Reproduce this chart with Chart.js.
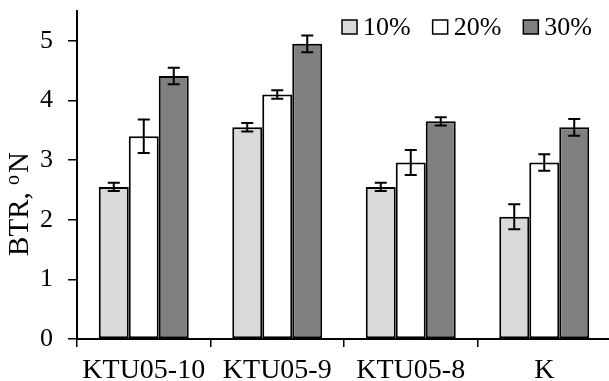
<!DOCTYPE html>
<html>
<head>
<meta charset="utf-8">
<script src="https://cdn.jsdelivr.net/npm/chart.js@4.4.1/dist/chart.umd.min.js"></script>
<style>
  html, body { margin: 0; padding: 0; background: #fff; overflow: hidden; }
  #wrap { width: 611px; height: 381px; position: relative; }
</style>
</head>
<body>
<div id="wrap"><canvas id="btrChart"></canvas></div>
<script>
const categories = ['KTU05-10', 'KTU05-9', 'KTU05-8', 'K'];
const seriesNames = ['10%', '20%', '30%'];

const values10 = [2.55, 3.55, 2.55, 2.05];
const values20 = [3.40, 4.10, 2.96, 2.96];
const values30 = [4.41, 4.95, 3.65, 3.55];

const errors10 = [0.07, 0.07, 0.07, 0.21];
const errors20 = [0.28, 0.07, 0.21, 0.14];
const errors30 = [0.14, 0.14, 0.07, 0.14];

const yTicks = [0, 1, 2, 3, 4, 5];

const serif = "'Liberation Serif', 'Times New Roman', serif";
const fills = ['#d9d9d9', '#ffffff', '#808080'];

const errorBarPlugin = {
  id: 'errorBars',
  afterDatasetsDraw(chart) {
    const ctx = chart.ctx;
    const yScale = chart.scales.y;
    ctx.save();
    ctx.strokeStyle = '#000';
    ctx.lineWidth = 2;
    chart.data.datasets.forEach((ds, i) => {
      const meta = chart.getDatasetMeta(i);
      meta.data.forEach((bar, j) => {
        const v = ds.data[j];
        const e = ds.errors[j];
        const yTop = yScale.getPixelForValue(v + e);
        const yBot = yScale.getPixelForValue(v - e);
        const x = bar.x;
        ctx.beginPath();
        ctx.moveTo(x, yTop);
        ctx.lineTo(x, yBot);
        ctx.moveTo(x - 6, yTop);
        ctx.lineTo(x + 6, yTop);
        ctx.moveTo(x - 6, yBot);
        ctx.lineTo(x + 6, yBot);
        ctx.stroke();
      });
    });
    ctx.restore();
  }
};

const legendPlugin = {
  id: 'boxLegend',
  afterDraw(chart) {
    const ctx = chart.ctx;
    ctx.save();
    ctx.font = '26px ' + serif;
    ctx.textBaseline = 'alphabetic';
    let x = 342;
    chart.data.datasets.forEach((ds) => {
      ctx.fillStyle = ds.backgroundColor;
      ctx.fillRect(x, 20, 15, 14);
      ctx.strokeStyle = '#000';
      ctx.lineWidth = 1.5;
      ctx.strokeRect(x, 20, 15, 14);
      ctx.fillStyle = '#000';
      ctx.fillText(ds.label, x + 21, 35);
      x += 21 + ctx.measureText(ds.label).width + 22;
    });
    ctx.restore();
  }
};

const yTitlePlugin = {
  id: 'yTitle',
  afterDraw(chart) {
    const ctx = chart.ctx;
    ctx.save();
    ctx.translate(28, 204);
    ctx.rotate(-Math.PI / 2);
    ctx.fillStyle = '#000';
    ctx.textBaseline = 'alphabetic';
    const mainFont = '29px ' + serif;
    const supFont = '20px ' + serif;
    ctx.font = mainFont;
    const w1 = ctx.measureText('BTR, ').width;
    const w3 = ctx.measureText('N').width;
    ctx.font = supFont;
    const w2 = ctx.measureText('o').width + 2;
    let x = -(w1 + w2 + w3) / 2;
    ctx.font = mainFont;
    ctx.fillText('BTR, ', x, 0);
    x += w1;
    ctx.font = supFont;
    ctx.fillText('o', x, -9);
    x += w2;
    ctx.font = mainFont;
    ctx.fillText('N', x, 0);
    ctx.restore();
  }
};

const ctx = document.getElementById('btrChart').getContext('2d');

new Chart(ctx, {
  type: 'bar',
  data: {
    labels: categories,
    datasets: [
      { label: seriesNames[0], data: values10, errors: errors10, backgroundColor: fills[0] },
      { label: seriesNames[1], data: values20, errors: errors20, backgroundColor: fills[1] },
      { label: seriesNames[2], data: values30, errors: errors30, backgroundColor: fills[2] }
    ].map(ds => Object.assign(ds, {
      borderColor: '#000',
      borderWidth: 2,
      borderSkipped: false,
      categoryPercentage: 0.674,
      barPercentage: 1
    }))
  },
  options: {
    responsive: true,
    maintainAspectRatio: false,
    animation: false,
    layout: { autoPadding: false, padding: { top: 11, right: 0, left: 0, bottom: 0 } },
    plugins: {
      legend: { display: false },
      tooltip: { enabled: false },
      title: { display: false }
    },
    scales: {
      x: {
        grid: {
          drawOnChartArea: false,
          drawTicks: true,
          tickLength: 8,
          color: '#000',
          lineWidth: 1.5
        },
        border: { color: '#000', width: 2 },
        ticks: {
          color: '#000',
          font: { family: serif, size: 28 },
          padding: 7,
          maxRotation: 0
        },
        afterFit(scale) {
          scale.height = 42;
          scale.paddingLeft = 0;
          scale.paddingRight = 0;
        }
      },
      y: {
        min: 0,
        max: 5.5,
        afterBuildTicks(scale) {
          scale.ticks = yTicks.map(v => ({ value: v }));
        },
        grid: {
          drawOnChartArea: false,
          drawTicks: true,
          tickLength: 9,
          color: '#000',
          lineWidth: 1.5
        },
        border: { color: '#000', width: 2 },
        ticks: {
          color: '#000',
          font: { family: serif, size: 26 },
          padding: 15
        },
        afterFit(scale) {
          scale.width = 77;
          scale.paddingTop = 0;
          scale.paddingBottom = 0;
        }
      }
    }
  },
  plugins: [errorBarPlugin, legendPlugin, yTitlePlugin]
});
</script>
</body>
</html>
